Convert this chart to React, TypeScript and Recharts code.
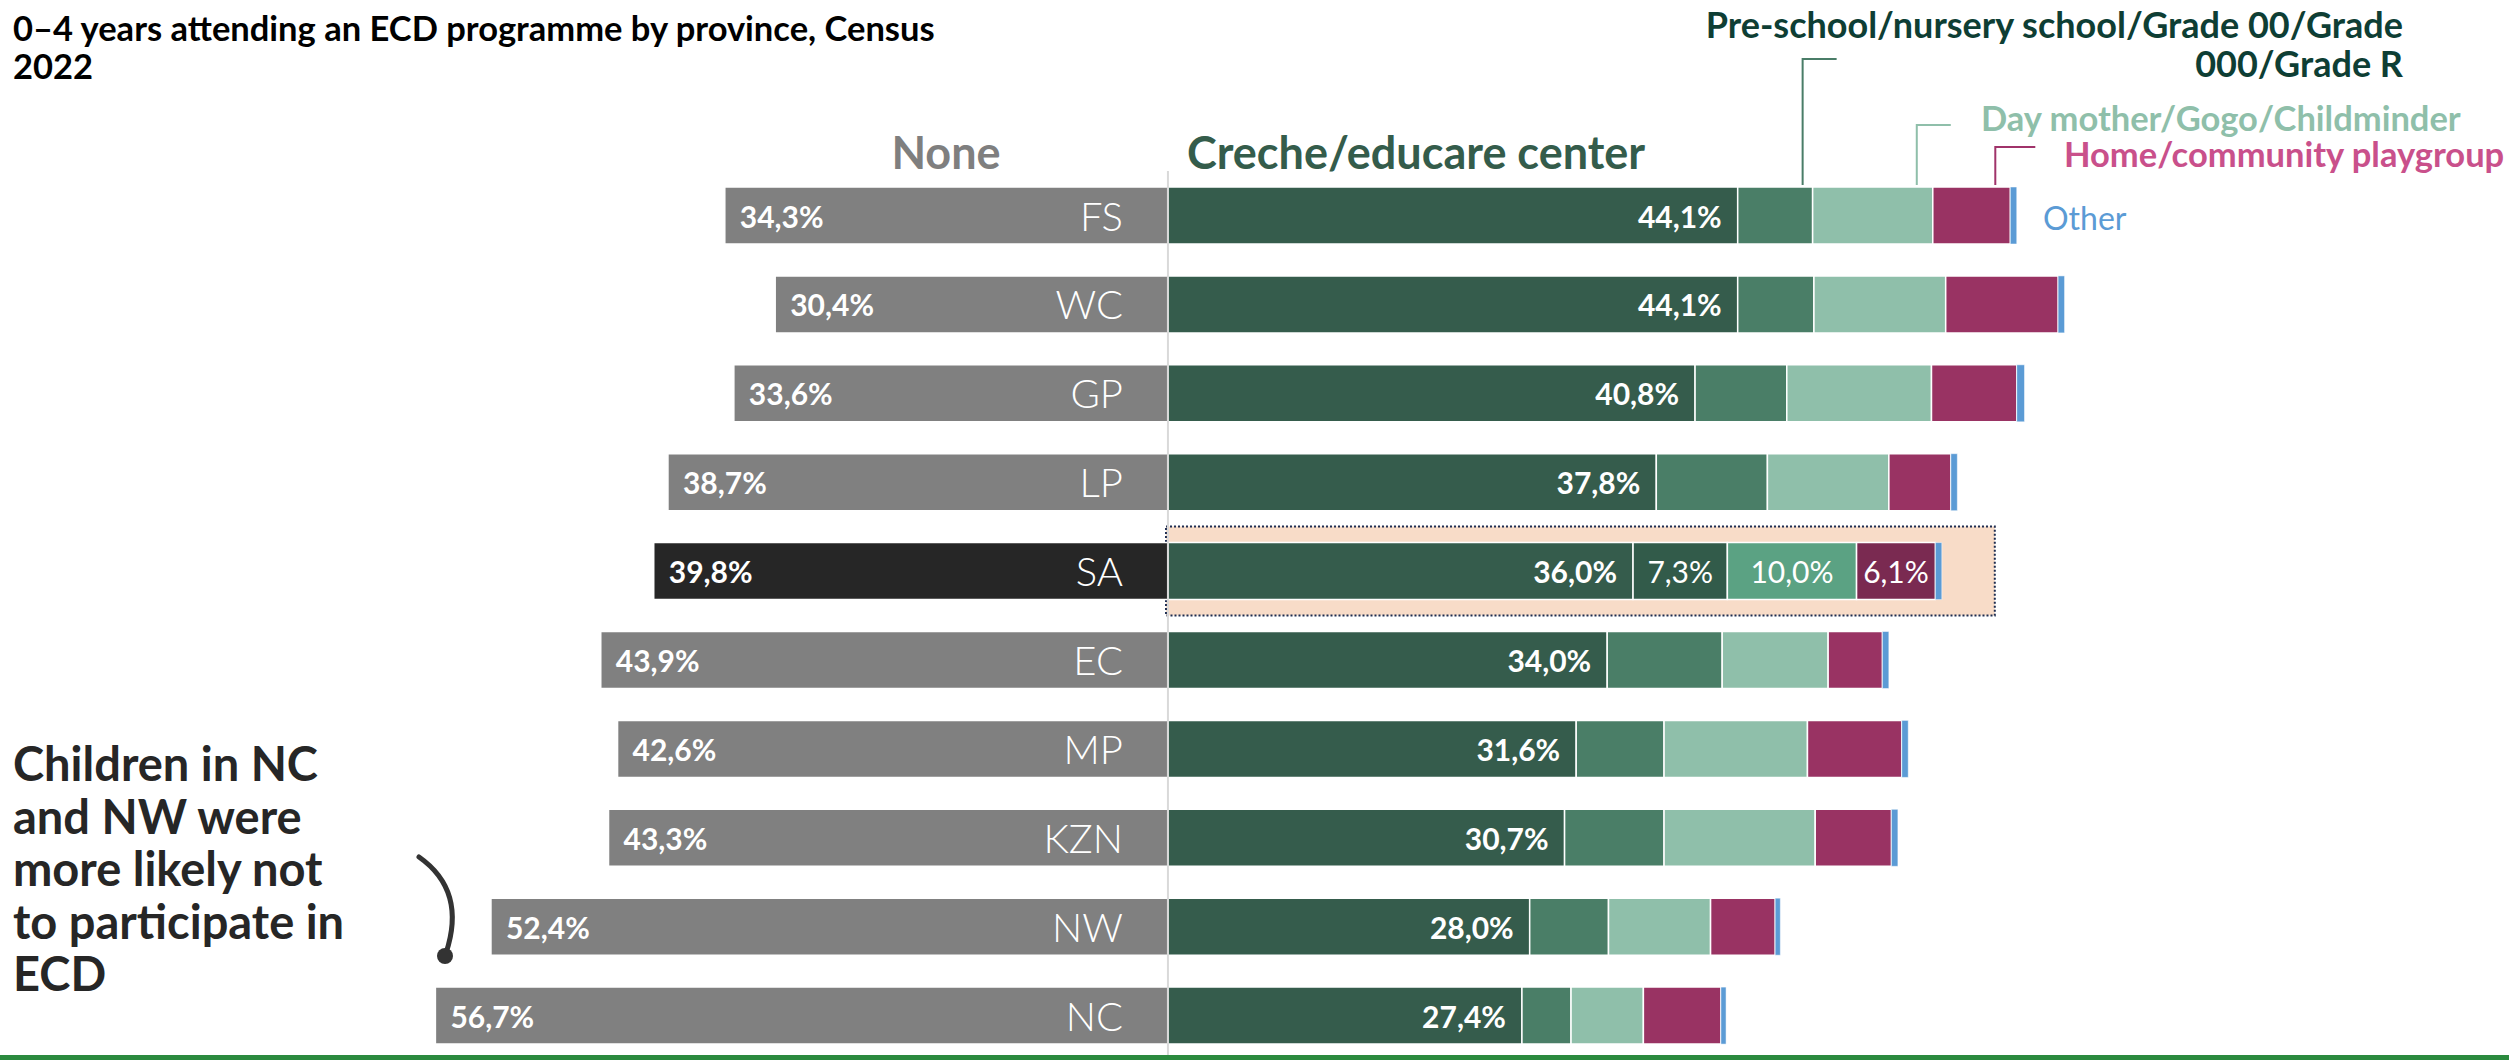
import { BarChart, Bar, XAxis, YAxis, Cell, LabelList, ReferenceLine, ReferenceArea } from 'recharts';

const provinces = ['FS', 'WC', 'GP', 'LP', 'SA', 'EC', 'MP', 'KZN', 'NW', 'NC'];
const noneVals = [34.3, 30.4, 33.6, 38.7, 39.8, 43.9, 42.6, 43.3, 52.4, 56.7];
const crecheVals = [44.1, 44.1, 40.8, 37.8, 36.0, 34.0, 31.6, 30.7, 28.0, 27.4];
const preschoolVals = [5.8, 5.9, 7.1, 8.6, 7.3, 8.9, 6.8, 7.7, 6.1, 3.8];
const dayMotherVals = [9.3, 10.2, 11.2, 9.4, 10.0, 8.2, 11.1, 11.7, 7.9, 5.6];
const homeVals = [6.0, 8.7, 6.6, 4.8, 6.1, 4.2, 7.3, 5.9, 5.0, 6.0];
const otherVals = [0.5, 0.5, 0.6, 0.5, 0.5, 0.5, 0.5, 0.5, 0.4, 0.4];

const HIGHLIGHT = 'SA';
const LEGEND_ROW = 'FS';

const COLORS = {
  none: '#808080',
  noneHi: '#262626',
  creche: '#355c4c',
  preschool: '#4a7e67',
  preschoolHi: '#325b4a',
  dayMother: '#8fbfaa',
  dayMotherHi: '#5ba283',
  home: '#993363',
  homeHi: '#7a2a51',
  other: '#5b9bd5',
};

const FONT = 'Lato, "Open Sans", sans-serif';

const fmt = (v: number) => Math.abs(v).toFixed(1).replace('.', ',') + '%';

const data = provinces.map((name, i) => ({
  name,
  none: -noneVals[i],
  creche: crecheVals[i],
  preschool: preschoolVals[i],
  dayMother: dayMotherVals[i],
  home: homeVals[i],
  other: otherVals[i],
  preLabel: name === HIGHLIGHT ? preschoolVals[i] : null,
  dayLabel: name === HIGHLIGHT ? dayMotherVals[i] : null,
  homeLabel: name === HIGHLIGHT ? homeVals[i] : null,
  legendPre: name === LEGEND_ROW ? preschoolVals[i] : null,
  legendDay: name === LEGEND_ROW ? dayMotherVals[i] : null,
  legendHome: name === LEGEND_ROW ? homeVals[i] : null,
}));

const box = (p: any) => {
  const vb = p.viewBox || {};
  const x = p.x ?? vb.x;
  const y = p.y ?? vb.y;
  const w = p.width ?? vb.width;
  const h = p.height ?? vb.height;
  return { left: Math.min(x, x + w), right: Math.max(x, x + w), top: y, h };
};

const NoneValueLabel = (p: any) => {
  const b = box(p);
  return (
    <text x={b.left + 15} y={b.top + b.h / 2} fill="#fff" fontSize={30} fontWeight={700} fontFamily={FONT} dominantBaseline="central">
      {fmt(p.value)}
    </text>
  );
};

const NameLabel = (p: any) => {
  const b = box(p);
  return (
    <text x={b.right - 45} y={b.top + b.h / 2} fill="#fff" fontSize={40} fontWeight={300} fontFamily={FONT} textAnchor="end" dominantBaseline="central">
      {p.value}
    </text>
  );
};

const CrecheLabel = (p: any) => {
  const b = box(p);
  return (
    <text x={b.right - 16} y={b.top + b.h / 2} fill="#fff" fontSize={30} fontWeight={700} fontFamily={FONT} textAnchor="end" dominantBaseline="central">
      {fmt(p.value)}
    </text>
  );
};

const CenterLabel = (p: any) => {
  if (p.value == null) return null;
  const b = box(p);
  return (
    <text x={(b.left + b.right) / 2} y={b.top + b.h / 2} fill="#fff" fontSize={30} fontWeight={400} fontFamily={FONT} textAnchor="middle" dominantBaseline="central">
      {fmt(p.value)}
    </text>
  );
};

// leader lines from the first row up to the series names
const connector = (inset: number, topY: number, armLen: number, color: string) => (p: any) => {
  if (p.value == null) return null;
  const b = box(p);
  const lx = b.right - inset;
  return (
    <path d={`M${lx},${b.top - 2} L${lx},${topY} L${lx + armLen},${topY}`} stroke={color} strokeWidth={2} fill="none" />
  );
};

export default function App() {
  return (
    <div style={{ position: 'absolute', left: 0, top: 0, width: 2509, height: 1060, overflow: 'hidden', background: '#fff', fontFamily: FONT }}>
      <BarChart
        width={2509}
        height={1060}
        data={data}
        layout="vertical"
        stackOffset="sign"
        margin={{ top: 171, right: 0, bottom: 0, left: 0 }}
        barSize={57}
      >
        <XAxis type="number" domain={[-90.4, 103.8]} hide allowDataOverflow />
        <YAxis type="category" dataKey="name" hide />
        <ReferenceArea
          x1={-0.15}
          x2={64}
          y1={HIGHLIGHT}
          y2={HIGHLIGHT}
          fill="#f8dcc8"
          fillOpacity={1}
          stroke="#1f2d50"
          strokeWidth={2}
          strokeDasharray="2 2"
        />
        <ReferenceLine x={0} stroke="#d9d9d9" strokeWidth={2} />
        <Bar dataKey="none" stackId="a" isAnimationActive={false} stroke="#fff" strokeWidth={1.5}>
          {data.map((d) => (
            <Cell key={d.name} fill={d.name === HIGHLIGHT ? COLORS.noneHi : COLORS.none} />
          ))}
          <LabelList dataKey="none" content={NoneValueLabel} />
          <LabelList dataKey="name" content={NameLabel} />
        </Bar>
        <Bar dataKey="creche" stackId="a" fill={COLORS.creche} isAnimationActive={false} stroke="#fff" strokeWidth={1.5}>
          <LabelList dataKey="creche" content={CrecheLabel} />
        </Bar>
        <Bar dataKey="preschool" stackId="a" isAnimationActive={false} stroke="#fff" strokeWidth={1.5}>
          {data.map((d) => (
            <Cell key={d.name} fill={d.name === HIGHLIGHT ? COLORS.preschoolHi : COLORS.preschool} />
          ))}
          <LabelList dataKey="preLabel" content={CenterLabel} />
          <LabelList dataKey="legendPre" content={connector(10, 59, 34, '#4a7d68')} />
        </Bar>
        <Bar dataKey="dayMother" stackId="a" isAnimationActive={false} stroke="#fff" strokeWidth={1.5}>
          {data.map((d) => (
            <Cell key={d.name} fill={d.name === HIGHLIGHT ? COLORS.dayMotherHi : COLORS.dayMother} />
          ))}
          <LabelList dataKey="dayLabel" content={CenterLabel} />
          <LabelList dataKey="legendDay" content={connector(16, 125, 34, '#8fbfaa')} />
        </Bar>
        <Bar dataKey="home" stackId="a" isAnimationActive={false} stroke="#fff" strokeWidth={1.5}>
          {data.map((d) => (
            <Cell key={d.name} fill={d.name === HIGHLIGHT ? COLORS.homeHi : COLORS.home} />
          ))}
          <LabelList dataKey="homeLabel" content={CenterLabel} />
          <LabelList dataKey="legendHome" content={connector(15, 147, 40, '#a0336a')} />
        </Bar>
        <Bar dataKey="other" stackId="a" fill={COLORS.other} isAnimationActive={false} stroke="#fff" strokeWidth={0.5} />
      </BarChart>

      {/* titles and series names */}
      <div style={{ position: 'absolute', left: 13, top: 9, fontSize: 34.5, lineHeight: '38px', fontWeight: 700, color: '#000', whiteSpace: 'nowrap' }}>
        0–4 years attending an ECD programme by province, Census
        <br />
        2022
      </div>
      <div style={{ position: 'absolute', left: 796, top: 125, width: 300, textAlign: 'center', fontSize: 45, lineHeight: '54px', fontWeight: 700, color: '#7f7f7f' }}>
        None
      </div>
      <div style={{ position: 'absolute', left: 1187, top: 125, fontSize: 45, lineHeight: '54px', fontWeight: 700, color: '#345c4b', whiteSpace: 'nowrap' }}>
        Creche/educare center
      </div>
      <div style={{ position: 'absolute', right: 106, top: 5, textAlign: 'right', fontSize: 36, lineHeight: '38px', fontWeight: 700, color: '#0e3e34', whiteSpace: 'nowrap' }}>
        Pre-school/nursery school/Grade 00/Grade
      </div>
      <div style={{ position: 'absolute', right: 106, top: 44, textAlign: 'right', fontSize: 36, lineHeight: '38px', fontWeight: 700, color: '#0e3e34', whiteSpace: 'nowrap' }}>
        000/Grade R
      </div>
      <div style={{ position: 'absolute', left: 1981, top: 98, fontSize: 34.5, lineHeight: '40px', fontWeight: 700, color: '#8fbfaa', whiteSpace: 'nowrap' }}>
        Day mother/Gogo/Childminder
      </div>
      <div style={{ position: 'absolute', left: 2064, top: 134, fontSize: 34.5, lineHeight: '40px', fontWeight: 700, color: '#c9508b', whiteSpace: 'nowrap' }}>
        Home/community playgroup
      </div>
      <div style={{ position: 'absolute', left: 2043, top: 198, fontSize: 32, lineHeight: '40px', fontWeight: 400, color: '#5b9bd5' }}>
        Other
      </div>

      {/* annotation */}
      <div style={{ position: 'absolute', left: 13, top: 737, fontSize: 47, lineHeight: '52.5px', fontWeight: 700, color: '#262626', whiteSpace: 'nowrap' }}>
        Children in NC
        <br />
        and NW were
        <br />
        more likely not
        <br />
        to participate in
        <br />
        ECD
      </div>
      <svg style={{ position: 'absolute', left: 0, top: 0 }} width={2509} height={1060} pointerEvents="none">
        <path d="M419,857 C446,876 462,905 446,953" stroke="#333" strokeWidth={5} fill="none" strokeLinecap="round" />
        <circle cx={445} cy={956} r={8} fill="#333" />
      </svg>
      <div style={{ position: 'absolute', left: 0, top: 1055, width: 2509, height: 5, background: '#2b8a3e' }} />
    </div>
  );
}
